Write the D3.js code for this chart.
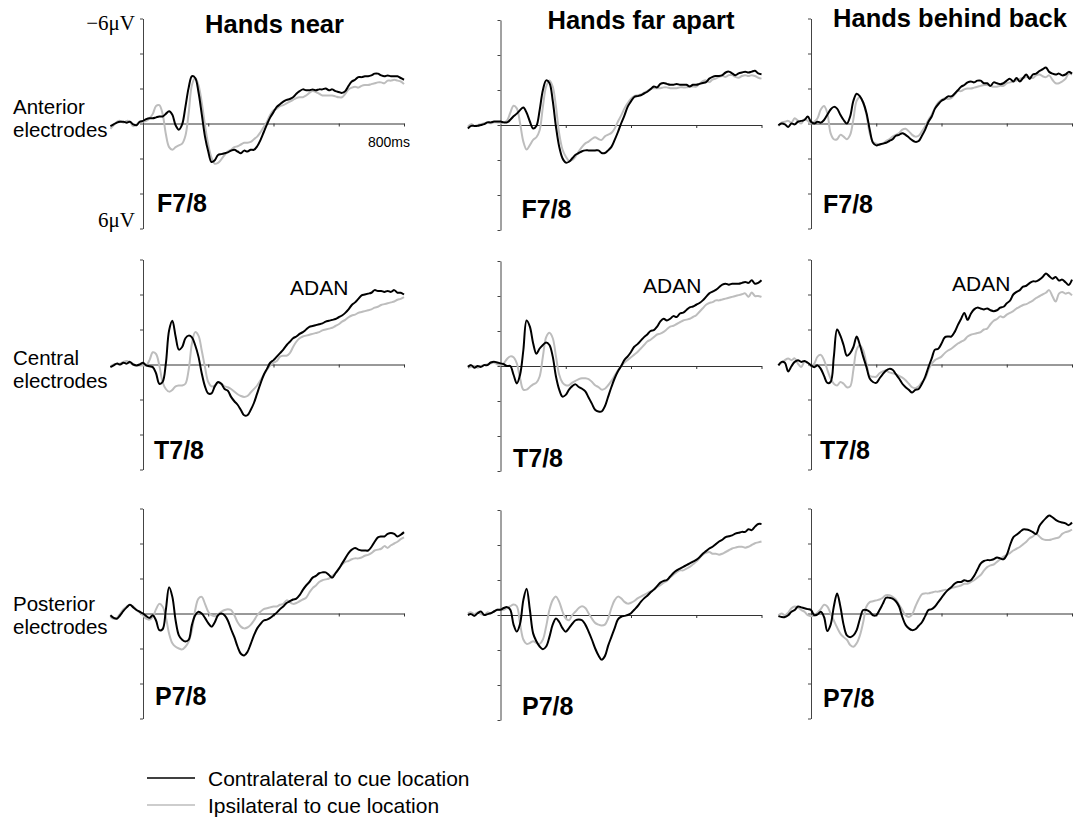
<!DOCTYPE html>
<html>
<head>
<meta charset="utf-8">
<script src="https://cdn.jsdelivr.net/npm/d3@7"></script>
<style>
  html, body { margin: 0; padding: 0; background: #fff; }
  svg { display: block; }
</style>
</head>
<body>
<svg id="chart" width="1078" height="818"></svg>
<script>
// ---- Data -------------------------------------------------------------
// Sampling times (ms relative to cue onset)
const timesMs = [
  -100, -90, -80, -70, -60, -50, -40, -30, -20, -10,
  0, 10, 20, 30, 40, 50, 60, 70, 80, 90,
  100, 110, 120, 130, 140, 150, 160, 170, 180, 190,
  200, 210, 220, 230, 240, 250, 260, 270, 280, 290,
  300, 310, 320, 330, 340, 350, 360, 370, 380, 390,
  400, 410, 420, 430, 440, 450, 460, 470, 480, 490,
  500, 510, 520, 530, 540, 550, 560, 570, 580, 590,
  600, 610, 620, 630, 640, 650, 660, 670, 680, 690,
  700, 710, 720, 730, 740, 750, 760, 770, 780, 790, 800
];

const conditions = ["Hands near", "Hands far apart", "Hands behind back"];
const regions = [["Anterior", "electrodes"], ["Central", "electrodes"], ["Posterior", "electrodes"]];
const electrodes = ["F7/8", "T7/8", "P7/8"];
const yTicksUv = [-6, -4, -2, 0, 2, 4, 6];
const xTicksMs = [200, 400, 600, 800];
const legendLabels = ["Contralateral to cue location", "Ipsilateral to cue location"];

// Grand-average amplitudes in microvolts (negative plotted upward)
// Anterior (F7/8)
const nearAnteriorContra = [
  0.15, 0.05, -0.05, -0.1, -0.1, -0.05, -0.1, 0.05, 0.1, -0.1,
  -0.15, -0.25, -0.3, -0.3, -0.35, -0.4, -0.4, -0.55, -0.7, -0.5,
  0.1, 0.35, 0.05, -0.95, -2.05, -2.7, -2.6, -1.8, -0.55, 0.75,
  1.6, 2.2, 2.1, 1.8, 1.75, 1.7, 1.65, 1.55, 1.5, 1.6,
  1.7, 1.55, 1.6, 1.5, 1.5, 1.3, 0.95, 0.5, 0.05, -0.35,
  -0.65, -0.95, -1.1, -1.25, -1.35, -1.4, -1.5, -1.7, -1.85, -1.95,
  -1.9, -1.9, -1.95, -1.9, -1.95, -1.95, -2.0, -1.9, -1.95, -1.85,
  -1.8, -1.75, -1.85, -2.15, -2.4, -2.5, -2.65, -2.65, -2.7, -2.7,
  -2.75, -2.85, -2.85, -2.75, -2.7, -2.75, -2.7, -2.7, -2.7, -2.6, -2.5
];
const nearAnteriorIpsi = [
  0.3, 0.1, -0.1, -0.15, -0.05, -0.15, -0.1, 0.15, 0.05, -0.1,
  -0.1, -0.15, -0.3, -0.55, -1.0, -1.05, -0.55, 0.6, 1.35, 1.5,
  1.35, 1.25, 1.15, 0.7, -0.6, -2.2, -2.6, -2.2, -1.2, 0.1,
  1.2, 1.95, 2.3, 2.25, 2.05, 1.8, 1.6, 1.5, 1.35, 1.3,
  1.2, 1.1, 1.1, 1.05, 0.9, 0.75, 0.5, 0.2, -0.1, -0.5,
  -0.75, -0.85, -1.0, -1.05, -1.15, -1.25, -1.35, -1.45, -1.5, -1.5,
  -1.6, -1.75, -1.85, -1.8, -1.7, -1.6, -1.6, -1.6, -1.6, -1.55,
  -1.5, -1.5, -1.7, -1.95, -2.05, -2.1, -2.05, -2.15, -2.2, -2.2,
  -2.25, -2.3, -2.35, -2.35, -2.3, -2.45, -2.45, -2.5, -2.45, -2.4, -2.25
];
const farAnteriorContra = [
  0.2, 0.05, 0.05, 0.05, 0, -0.05, -0.15, -0.15, -0.2, -0.2,
  -0.2, -0.15, -0.15, -0.3, -0.5, -0.65, -0.85, -1.0, -0.7, -0.2,
  0.2, 0.05, -0.85, -2.0, -2.55, -2.4, -1.4, 0.1, 1.25, 1.9,
  2.15, 2.1, 1.9, 1.7, 1.6, 1.5, 1.45, 1.45, 1.45, 1.45,
  1.45, 1.6, 1.6, 1.45, 1.25, 0.85, 0.4, -0.1, -0.55, -1.05,
  -1.35, -1.6, -1.65, -1.7, -1.8, -1.9, -2.05, -2.2, -2.15, -2.35,
  -2.4, -2.35, -2.3, -2.3, -2.35, -2.3, -2.3, -2.3, -2.2, -2.3,
  -2.3, -2.35, -2.4, -2.45, -2.65, -2.75, -2.8, -2.8, -2.85, -3.0,
  -3.05, -2.95, -2.85, -2.95, -3.0, -3.05, -3.0, -3.05, -3.1, -2.95, -2.9
];
const farAnteriorIpsi = [
  0.1, -0.05, 0.05, 0, -0.05, -0.1, -0.15, -0.1, -0.15, -0.15,
  -0.15, -0.15, -0.25, -0.7, -1.1, -0.95, -0.1, 0.95, 1.4, 1.15,
  0.85, 0.7, 0.3, -1.05, -2.2, -2.55, -2.2, -1.05, 0.5, 1.4,
  1.8, 2.05, 2.0, 1.8, 1.5, 1.25, 1.05, 0.95, 0.8, 0.7,
  0.8, 0.85, 0.65, 0.55, 0.45, 0.2, -0.2, -0.55, -0.95, -1.25,
  -1.5, -1.65, -1.7, -1.75, -1.85, -1.95, -2.05, -2.1, -2.1, -2.1,
  -2.15, -2.15, -2.1, -2.1, -2.1, -2.15, -2.15, -2.15, -2.2, -2.2,
  -2.2, -2.35, -2.5, -2.55, -2.45, -2.6, -2.65, -2.75, -2.8, -2.75,
  -2.85, -2.85, -2.75, -2.7, -2.8, -2.85, -2.8, -2.85, -2.8, -2.7, -2.65
];
const behindAnteriorContra = [
  0.1, 0, 0.05, 0.2, 0, 0.05, -0.1, -0.15, -0.2, -0.4,
  -0.1, 0, -0.1, -0.05, -0.2, -0.5, -0.8, -0.95, -0.85, -0.5,
  -0.2, 0, -0.4, -1.3, -1.7, -1.55, -1.2, -0.6, 0.35, 1.1,
  1.25, 1.2, 1.15, 1.1, 1.0, 0.9, 0.7, 0.65, 0.55, 0.65,
  0.8, 0.95, 1.05, 1.0, 0.7, 0.35, -0.1, -0.4, -0.85, -1.1,
  -1.3, -1.4, -1.55, -1.55, -1.7, -1.9, -2.1, -2.2, -2.35, -2.4,
  -2.35, -2.45, -2.45, -2.3, -2.3, -2.15, -2.35, -2.3, -2.25, -2.3,
  -2.45, -2.55, -2.4, -2.6, -2.4, -2.6, -2.8, -2.55, -2.8, -2.85,
  -3.0, -3.1, -3.2, -2.95, -2.85, -2.8, -2.85, -2.75, -2.8, -2.95, -2.85
];
const behindAnteriorIpsi = [
  0.15, -0.05, -0.1, -0.15, -0.05, -0.3, -0.15, 0, -0.25, -0.15,
  0, -0.1, -0.3, -0.8, -1.0, -0.6, 0.55, 0.9, 0.9, 0.65,
  0.75, 0.9, 0.65, -0.25, -1.3, -1.5, -1.2, -0.5, 0.55, 1.05,
  1.15, 1.2, 1.15, 1.0, 0.9, 0.75, 0.65, 0.55, 0.35, 0.3,
  0.45, 0.65, 0.75, 0.7, 0.45, 0.15, -0.2, -0.5, -0.9, -1.2,
  -1.35, -1.45, -1.4, -1.45, -1.65, -1.85, -1.85, -1.95, -2.0, -2.0,
  -2.05, -2.1, -2.15, -2.2, -2.2, -2.15, -2.1, -2.1, -2.15, -2.15,
  -2.3, -2.35, -2.4, -2.45, -2.55, -2.6, -2.65, -2.65, -2.6, -2.75,
  -2.8, -2.7, -2.65, -2.75, -2.5, -2.3, -2.3, -2.4, -2.55, -2.85, -2.8
];

// Central (T7/8)
const nearCentralContra = [
  0.15, 0.05, -0.05, 0, -0.1, -0.05, -0.15, 0, 0.05, 0,
  -0.1, 0.05, 0.1, 0.15, 0.5, 1.1, 1.0, -0.05, -1.95, -2.5,
  -1.6, -0.85, -1.0, -1.5, -1.65, -1.55, -1.1, -0.45, 0.5, 1.25,
  1.65, 1.65, 1.25, 1.0, 1.1, 1.4, 1.5, 1.85, 2.1, 2.3,
  2.6, 2.9, 2.9, 2.6, 2.2, 1.65, 1.1, 0.6, 0.25, -0.1,
  -0.25, -0.45, -0.65, -0.85, -1.1, -1.3, -1.5, -1.6, -1.75, -1.85,
  -2.0, -2.15, -2.2, -2.25, -2.3, -2.35, -2.45, -2.5, -2.55, -2.6,
  -2.7, -2.8, -2.95, -3.15, -3.4, -3.55, -3.75, -3.95, -4.0, -4.05,
  -4.1, -4.25, -4.2, -4.2, -4.15, -4.2, -4.15, -4.25, -4.1, -4.1, -4.0
];
const nearCentralIpsi = [
  0.1, 0, -0.05, -0.05, -0.15, -0.2, -0.1, 0, 0.05, 0.05,
  0.05, 0.05, -0.25, -0.7, -0.6, 0.05, 1.0, 1.4, 1.55, 1.45,
  1.25, 1.2, 1.2, 1.1, 0.3, -1.2, -1.85, -1.65, -0.8, 0.15,
  1.0, 1.25, 1.2, 1.05, 1.1, 1.25, 1.3, 1.4, 1.55, 1.7,
  1.8, 1.85, 1.8, 1.6, 1.4, 1.2, 0.9, 0.6, 0.3, 0.05,
  -0.1, -0.2, -0.45, -0.5, -0.5, -0.65, -1.0, -1.3, -1.5, -1.6,
  -1.65, -1.7, -1.75, -1.8, -1.85, -1.95, -2.0, -2.05, -2.1, -2.2,
  -2.3, -2.45, -2.55, -2.7, -2.8, -2.85, -2.95, -3.0, -3.05, -3.1,
  -3.15, -3.25, -3.3, -3.4, -3.45, -3.5, -3.55, -3.6, -3.7, -3.75, -3.85
];
const farCentralContra = [
  0.05, -0.05, 0.1, 0, 0.05, -0.05, -0.05, -0.2, -0.25, -0.2,
  -0.15, -0.1, 0, 0, 0.5, 1.0, 0.5, -0.9, -2.6, -2.25,
  -1.3, -0.7, -1.0, -1.2, -1.35, -1.2, -0.55, 0.6, 1.35, 1.75,
  1.65, 1.35, 1.15, 1.05, 1.2, 1.3, 1.45, 1.8, 2.15, 2.5,
  2.6, 2.6, 2.3, 1.75, 1.2, 0.7, 0.3, 0, -0.35, -0.55,
  -0.8, -1.1, -1.25, -1.45, -1.65, -1.8, -2.0, -2.05, -2.25, -2.55,
  -2.7, -2.6, -2.7, -2.85, -2.8, -3.0, -3.05, -3.2, -3.35, -3.4,
  -3.5, -3.6, -3.75, -3.95, -4.15, -4.25, -4.35, -4.5, -4.65, -4.7,
  -4.65, -4.7, -4.7, -4.7, -4.75, -4.8, -4.75, -4.9, -4.7, -4.75, -4.9
];
const farCentralIpsi = [
  0.1, 0.05, 0, 0.1, 0, -0.05, -0.1, -0.15, -0.2, -0.1,
  -0.05, -0.15, -0.4, -0.55, -0.5, -0.15, 0.7, 1.35, 1.35, 1.2,
  1.05, 0.95, 0.6, -0.55, -1.65, -1.9, -1.6, -0.55, 0.5, 0.95,
  1.1, 1.1, 0.95, 0.85, 0.75, 0.7, 0.7, 0.75, 0.9, 1.1,
  1.2, 1.35, 1.3, 1.1, 0.85, 0.55, 0.25, 0, -0.2, -0.35,
  -0.5, -0.65, -0.8, -1.0, -1.2, -1.4, -1.5, -1.65, -1.8, -1.85,
  -1.95, -2.1, -2.25, -2.3, -2.4, -2.5, -2.6, -2.65, -2.7, -2.8,
  -2.9, -3.1, -3.3, -3.5, -3.6, -3.65, -3.75, -3.75, -3.8, -3.85,
  -3.9, -3.95, -4.0, -4.05, -4.1, -4.15, -3.95, -4.2, -4.0, -4.0, -3.95
];
const behindCentralContra = [
  0.05, -0.15, -0.1, 0.4, 0.1, -0.15, -0.25, -0.15, -0.2, -0.1,
  0.05, 0.15, 0.05, 0.25, 0.65, 1.05, 1.0, -0.45, -2.0, -1.65,
  -1.1, -0.5, -0.65, -1.0, -1.6, -1.1, -0.45, 0.15, 0.8, 1.0,
  1.05, 0.8, 0.55, 0.35, 0.25, 0.3, 0.55, 0.8, 1.1, 1.3,
  1.45, 1.6, 1.45, 1.4, 1.1, 0.7, 0.15, -0.35, -0.85, -0.9,
  -1.2, -1.55, -1.6, -1.6, -1.85, -2.25, -2.6, -2.95, -2.55, -2.9,
  -3.15, -3.25, -3.2, -3.15, -3.2, -3.1, -3.05, -3.1, -3.25, -3.3,
  -3.5, -3.65, -4.0, -4.15, -4.25, -4.45, -4.5, -4.65, -4.75, -4.75,
  -4.85, -5.0, -5.2, -5.05, -4.9, -5.0, -4.8, -4.85, -4.7, -4.55, -4.85
];
const behindCentralIpsi = [
  0.05, -0.1, -0.25, -0.35, -0.25, -0.35, -0.05, 0.15, -0.15, -0.1,
  0.1, -0.05, -0.45, -0.55, -0.25, 0.3, 0.8, 1.1, 1.2, 1.0,
  1.1, 1.3, 1.25, 0.3, -0.85, -1.1, -0.8, -0.05, 0.65, 0.7,
  0.7, 0.5, 0.4, 0.35, 0.45, 0.5, 0.55, 0.65, 0.75, 0.9,
  1.1, 1.3, 1.35, 1.25, 1.0, 0.8, 0.3, -0.05, -0.25, -0.35,
  -0.45, -0.65, -0.8, -0.9, -1.05, -1.2, -1.3, -1.4, -1.6, -1.7,
  -1.75, -1.8, -1.85, -2.0, -2.05, -2.3, -2.5, -2.6, -2.75, -2.7,
  -2.85, -2.95, -3.05, -3.2, -3.3, -3.4, -3.45, -3.55, -3.65, -3.8,
  -3.9, -4.0, -4.1, -4.25, -3.9, -3.6, -4.05, -4.15, -4.05, -4.1, -3.95
];

// Posterior (P7/8)
const nearPosteriorContra = [
  0.1, 0.25, 0.3, 0.1, -0.15, -0.35, -0.5, -0.35, -0.2, -0.1,
  0, 0.15, 0.25, 0.1, 0.4, 0.95, 0.9, -0.2, -1.5, -0.95,
  0.4, 1.25, 1.5, 1.6, 1.5, 0.65, 0.1, -0.1, 0, 0.25,
  0.55, 0.75, 0.5, 0.1, 0, 0.1, 0.4, 0.9, 1.35, 1.9,
  2.3, 2.4, 2.2, 1.75, 1.25, 0.85, 0.6, 0.4, 0.35, 0.25,
  0.1, -0.05, -0.25, -0.4, -0.6, -0.7, -0.8, -0.85, -1.05, -1.35,
  -1.6, -1.8, -2.05, -2.15, -2.3, -2.35, -2.35, -2.2, -2.05, -2.3,
  -2.55, -2.85, -3.15, -3.45, -3.65, -3.75, -3.65, -3.6, -3.6, -3.6,
  -3.8, -4.1, -4.35, -4.4, -4.4, -4.55, -4.6, -4.55, -4.4, -4.5, -4.65
];
const nearPosteriorIpsi = [
  0.2, 0.3, 0.25, 0, -0.25, -0.4, -0.5, -0.4, -0.2, -0.05,
  0.1, 0.3, 0.35, 0.2, -0.25, -0.55, -0.4, 0.2, 1.15, 1.7,
  1.9, 2.0, 2.05, 1.9, 1.6, 0.95, -0.2, -0.85, -0.95, -0.55,
  -0.1, 0.1, 0.15, 0.05, -0.1, -0.2, -0.25, -0.2, 0.1, 0.5,
  0.75, 0.85, 0.8, 0.65, 0.4, 0.1, -0.1, -0.25, -0.3, -0.35,
  -0.4, -0.4, -0.5, -0.55, -0.75, -0.65, -0.55, -0.6, -0.7, -0.8,
  -0.9, -1.2, -1.45, -1.6, -1.8, -1.9, -1.95, -2.0, -2.15, -2.3,
  -2.55, -2.8, -2.95, -3.0, -3.1, -3.15, -3.15, -3.2, -3.3, -3.35,
  -3.45, -3.6, -3.65, -3.7, -3.85, -3.75, -3.9, -4.0, -4.1, -4.25, -4.35
];
const farPosteriorContra = [
  0, -0.05, 0.05, -0.1, -0.2, 0, -0.05, -0.1, -0.2, -0.3,
  -0.3, -0.4, -0.45, -0.3, 0.55, 0.95, 0.5, -0.85, -1.5, -0.3,
  1.05, 1.5, 1.8, 1.95, 1.8, 1.25, 0.55, 0.2, 0.4, 0.75,
  0.95, 0.75, 0.5, 0.3, 0.25, 0.3, 0.55, 0.95, 1.4, 1.9,
  2.3, 2.55, 2.35, 1.75, 1.25, 0.75, 0.25, 0.1, 0.05, 0,
  -0.1, -0.3, -0.5, -0.75, -0.95, -1.1, -1.3, -1.45, -1.65, -1.85,
  -1.95, -2.0, -2.2, -2.4, -2.55, -2.65, -2.75, -2.85, -2.95, -3.05,
  -3.15, -3.3, -3.5, -3.65, -3.8, -3.9, -4.05, -4.2, -4.3, -4.45,
  -4.5, -4.55, -4.65, -4.7, -4.75, -4.75, -4.9, -4.85, -5.05, -5.2, -5.2
];
const farPosteriorIpsi = [
  -0.1, -0.15, -0.05, -0.15, -0.05, 0, -0.15, -0.1, -0.2, -0.3,
  -0.3, -0.3, -0.4, -0.5, -0.6, -0.5, 0.5, 1.4, 1.65, 1.6,
  1.5, 1.6, 1.65, 1.4, 0.65, -0.3, -0.85, -1.05, -0.75, -0.2,
  0.2, 0.3, 0, -0.2, -0.4, -0.5, -0.4, -0.1, 0.2, 0.45,
  0.55, 0.6, 0.55, 0.2, -0.4, -0.85, -1.05, -0.95, -0.75, -0.65,
  -0.7, -0.8, -0.95, -1.05, -1.15, -1.25, -1.35, -1.45, -1.6, -1.7,
  -1.85, -1.95, -2.15, -2.3, -2.45, -2.55, -2.55, -2.65, -2.75, -2.9,
  -3.05, -3.25, -3.45, -3.55, -3.6, -3.5, -3.5, -3.45, -3.5, -3.6,
  -3.7, -3.8, -3.85, -3.9, -3.9, -3.85, -3.9, -4.0, -4.1, -4.15, -4.2
];
const behindPosteriorContra = [
  0.15, 0.2, 0.2, 0.1, -0.1, -0.2, -0.4, -0.35, -0.3, -0.25,
  -0.2, 0.1, 0.05, -0.1, 0.2, 1.0, 0.65, -0.4, -1.15, -0.4,
  0.65, 1.25, 1.35, 1.25, 0.95, 0.3, -0.2, -0.2, -0.1, 0.1,
  0.1, -0.2, -0.55, -0.9, -0.9, -0.85, -0.7, -0.4, 0.2, 0.65,
  0.85, 0.95, 0.9, 0.7, 0.5, 0.15, -0.2, -0.25, -0.4, -0.65,
  -0.9, -1.15, -1.35, -1.5, -1.7, -1.8, -1.8, -1.9, -1.85, -1.9,
  -2.15, -2.5, -2.85, -3.0, -3.05, -3.05, -3.1, -3.2, -3.15, -3.1,
  -3.35, -3.9, -4.35, -4.5, -4.65, -4.8, -4.8, -4.75, -4.65, -4.55,
  -5.0, -5.25, -5.45, -5.6, -5.5, -5.35, -5.25, -5.2, -5.15, -5.05, -5.2
];
const behindPosteriorIpsi = [
  0.1, 0, 0.1, -0.05, -0.3, -0.4, -0.35, -0.2, -0.1, 0.1,
  0.15, 0.1, -0.05, -0.25, -0.5, -0.4, 0, 0.4, 0.8, 1.15,
  1.35, 1.5, 1.8, 1.9, 1.7, 1.25, 0.5, -0.4, -0.65, -0.7,
  -0.75, -0.8, -0.9, -1.05, -1.05, -0.95, -0.8, -0.5, -0.2, 0.1,
  0.2, 0.05, -0.4, -0.8, -1.1, -1.15, -1.15, -1.2, -1.25, -1.25,
  -1.3, -1.35, -1.35, -1.45, -1.5, -1.55, -1.6, -1.7, -1.7, -1.8,
  -1.9, -2.05, -2.2, -2.45, -2.65, -2.75, -2.8, -2.95, -3.1, -3.25,
  -3.35, -3.45, -3.6, -3.7, -3.8, -3.95, -4.1, -4.3, -4.4, -4.55,
  -4.4, -4.25, -4.2, -4.2, -4.25, -4.3, -4.35, -4.55, -4.65, -4.7, -4.8
];

// rows = electrode region, columns = hand posture
const waveGrid = [
  [[nearAnteriorContra, nearAnteriorIpsi], [farAnteriorContra, farAnteriorIpsi], [behindAnteriorContra, behindAnteriorIpsi]],
  [[nearCentralContra, nearCentralIpsi], [farCentralContra, farCentralIpsi], [behindCentralContra, behindCentralIpsi]],
  [[nearPosteriorContra, nearPosteriorIpsi], [farPosteriorContra, farPosteriorIpsi], [behindPosteriorContra, behindPosteriorIpsi]]
];

// ---- Layout -----------------------------------------------------------
const SANS = "'Liberation Sans', Arial, Helvetica, sans-serif";
const SERIF = "'Liberation Serif', 'Times New Roman', Times, serif";
const colX0 = [143, 500.5, 811];       // x of the 0 ms axis in each column
const plotW = 261;                      // 0..800 ms
const rowY0 = [123.5, 364.5, 613.5];   // y of the 0 µV line in each row
const colDy = [0, 1.5, 0];
const halfH = 105;                      // 6 µV
const CONTRA = "#000000";
const IPSI = "#bdbdbd";

const titlePos = [[274.5, 33], [641, 28.5], [950, 27]];
const electrodePos = [
  [[157, 212], [521.5, 218], [823, 213]],
  [[154, 459], [513, 467], [820, 459]],
  [[155, 705], [522, 715], [823, 707]]
];
const adanPos = [[290, 295], [643, 293], [952, 291]];
const regionBaselines = [[114, 136.5], [364.5, 387.5], [611, 633.5]];

const svg = d3.select("#chart");

// Column titles
svg.selectAll("text.cond")
  .data(conditions)
  .join("text")
  .attr("class", "cond")
  .attr("x", (d, i) => titlePos[i][0])
  .attr("y", (d, i) => titlePos[i][1])
  .attr("text-anchor", "middle")
  .attr("font-family", SANS)
  .attr("font-weight", "bold")
  .attr("font-size", 25.5)
  .attr("fill", "#000")
  .text(d => d);

// Row labels
regions.forEach((lines, r) => {
  const t = svg.append("text")
    .attr("font-family", SANS)
    .attr("font-size", 20.5)
    .attr("fill", "#000");
  lines.forEach((ln, k) => {
    t.append("tspan").attr("x", 13).attr("y", regionBaselines[r][k]).text(ln);
  });
});

waveGrid.forEach((row, r) => {
  row.forEach((pair, c) => {
    const x0 = colX0[c];
    const y0 = rowY0[r] + colDy[c];
    const x = d3.scaleLinear().domain([0, 800]).range([x0, x0 + plotW]);
    const y = d3.scaleLinear().domain([-6, 6]).range([y0 - halfH, y0 + halfH]);
    const g = svg.append("g");

    // zero line with time ticks
    g.append("g")
      .attr("transform", `translate(0,${y(0)})`)
      .call(d3.axisBottom(x).tickValues(xTicksMs).tickSize(3).tickSizeOuter(0).tickFormat(""))
      .call(a => a.selectAll("path,line").attr("stroke", "#333").attr("stroke-width", 1));

    // voltage axis
    g.append("g")
      .attr("transform", `translate(${x(0)},0)`)
      .call(d3.axisLeft(y).tickValues(yTicksUv).tickSize(3).tickSizeOuter(0).tickFormat(""))
      .call(a => a.selectAll("path,line").attr("stroke", "#444").attr("stroke-width", 1));

    const line = d3.line()
      .x((d, i) => x(timesMs[i]))
      .y(d => y(d))
      .curve(d3.curveCatmullRom.alpha(0.5));

    g.append("path")
      .attr("d", line(pair[1]))
      .attr("fill", "none")
      .attr("stroke", IPSI)
      .attr("stroke-width", 2)
      .attr("stroke-linejoin", "round");
    g.append("path")
      .attr("d", line(pair[0]))
      .attr("fill", "none")
      .attr("stroke", CONTRA)
      .attr("stroke-width", 2)
      .attr("stroke-linejoin", "round");

    // electrode pair label
    g.append("text")
      .attr("x", electrodePos[r][c][0])
      .attr("y", electrodePos[r][c][1])
      .attr("font-family", SANS)
      .attr("font-weight", "bold")
      .attr("font-size", 25)
      .attr("fill", "#000")
      .text(electrodes[r]);

    if (r === 1) {
      g.append("text")
        .attr("x", adanPos[c][0])
        .attr("y", adanPos[c][1])
        .attr("font-family", SANS)
        .attr("font-size", 21)
        .attr("fill", "#000")
        .text("ADAN");
    }

    if (r === 0 && c === 0) {
      g.append("text")
        .attr("x", x(0) - 8)
        .attr("y", y(-6) + 11)
        .attr("text-anchor", "end")
        .attr("font-family", SERIF)
        .attr("font-size", 21)
        .attr("fill", "#000")
        .text("\u22126\u03bcV");
      g.append("text")
        .attr("x", x(0) - 8)
        .attr("y", y(6) - 1.5)
        .attr("text-anchor", "end")
        .attr("font-family", SERIF)
        .attr("font-size", 21)
        .attr("fill", "#000")
        .text("6\u03bcV");
      g.append("text")
        .attr("x", x(800) - 36)
        .attr("y", y(0) + 23.5)
        .attr("font-family", SANS)
        .attr("font-size", 14)
        .attr("fill", "#000")
        .text(xTicksMs[xTicksMs.length - 1] + "ms");
    }
  });
});

// Legend
const legend = svg.append("g");
const legendY = [778, 805];
const legendColors = [CONTRA, IPSI];
legendLabels.forEach((lab, i) => {
  legend.append("line")
    .attr("x1", 147).attr("x2", 195)
    .attr("y1", legendY[i]).attr("y2", legendY[i])
    .attr("stroke", legendColors[i])
    .attr("stroke-width", 1.6);
  legend.append("text")
    .attr("x", 208)
    .attr("y", legendY[i] + 7.5)
    .attr("font-family", SANS)
    .attr("font-size", 21)
    .attr("fill", "#000")
    .text(lab);
});
</script>
</body>
</html>
